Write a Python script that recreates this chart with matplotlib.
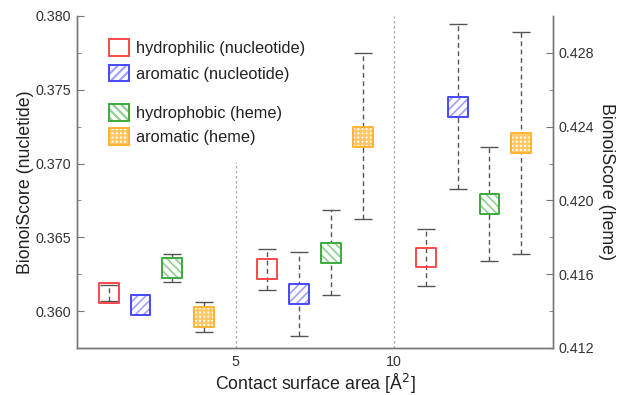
import numpy as np
import matplotlib
matplotlib.use("Agg")
import matplotlib.pyplot as plt
from matplotlib.patches import Patch
from matplotlib.legend_handler import HandlerTuple

plt.rcParams['font.family'] = ['Liberation Sans', 'DejaVu Sans']

# x positions (contact surface area)
x_hphil_nuc = [1, 6, 11]
x_arom_nuc = [2, 7, 12]
x_hphob_heme = [3, 8, 13]
x_arom_heme = [4, 9, 14]

# nucleotide (left axis): value, lower end, upper end
hphil_nuc = [0.36125, 0.36283, 0.36363]
hphil_nuc_lo = [0.3607, 0.36142, 0.36172]
hphil_nuc_hi = [0.3618, 0.36420, 0.36556]

arom_nuc = [0.3604, 0.36115, 0.37385]
arom_nuc_lo = [0.3602, 0.35833, 0.36827]
arom_nuc_hi = [0.3606, 0.36398, 0.37946]

# heme (right axis)
hphob_heme = [0.41634, 0.41716, 0.41980]
hphob_heme_lo = [0.41560, 0.41487, 0.41674]
hphob_heme_hi = [0.41709, 0.41949, 0.42290]

arom_heme = [0.41366, 0.42346, 0.42312]
arom_heme_lo = [0.41289, 0.41899, 0.41709]
arom_heme_hi = [0.41452, 0.42798, 0.42915]

labels = ['hydrophilic (nucleotide)', 'aromatic (nucleotide)',
          'hydrophobic (heme)', 'aromatic (heme)']
edge_cols = ['#ff4848', '#4848ff', '#3daa3d', '#ffb333']
hatch_cols = ['none', '#a0a0ff', '#8fd08f', '#ffc766']
hatches = [None, '////', '\\\\\\\\', '++++']

fig = plt.figure(figsize=(6.17, 3.95), dpi=100)
ax = fig.add_axes([0.1248, 0.119, 0.7714, 0.8405])
ax2 = ax.twinx()

ax.set_xlim(0, 15)
ax.set_ylim(0.3575, 0.380)
ax2.set_ylim(0.412, 0.430)

for a in (ax, ax2):
    a.spines['top'].set_visible(False)
    for s in a.spines.values():
        s.set_color('#777777')
        s.set_linewidth(1.0)

# first divider stops below the legend
ax.axvline(5, ymax=0.56, color='#aaaaaa', ls=(0, (2, 2)), lw=0.9, zorder=0)
ax.axvline(10, color='#aaaaaa', ls=(0, (2, 2)), lw=0.9, zorder=0)

err_kw = dict(fmt='none', ecolor='#555555', elinewidth=1.0, capsize=6.8,
              capthick=1.0)
msize = 205


def draw(axis, x, y, lo, hi, i):
    y = np.array(y)
    yerr = [y - np.array(lo), np.array(hi) - y]
    eb = axis.errorbar(x, y, yerr=yerr, zorder=2, **err_kw)
    eb[2][0].set_linestyle((0, (3.5, 2.5)))
    if hatches[i] is not None:
        plt.rcParams['hatch.linewidth'] = 1.6 if i == 3 else 1.2
        axis.scatter(x, y, s=msize, marker='s', facecolor='white',
                     edgecolor=hatch_cols[i], hatch=hatches[i],
                     linewidths=0, zorder=3)
    axis.scatter(x, y, s=msize, marker='s', facecolor='none',
                 edgecolor=edge_cols[i], linewidths=1.4, zorder=4)


draw(ax, x_hphil_nuc, hphil_nuc, hphil_nuc_lo, hphil_nuc_hi, 0)
draw(ax, x_arom_nuc, arom_nuc, arom_nuc_lo, arom_nuc_hi, 1)
draw(ax2, x_hphob_heme, hphob_heme, hphob_heme_lo, hphob_heme_hi, 2)
draw(ax2, x_arom_heme, arom_heme, arom_heme_lo, arom_heme_hi, 3)

ax.set_xticks([5, 10])
ax.set_yticks([0.360, 0.365, 0.370, 0.375, 0.380])
ax.set_yticks(np.arange(0.3625, 0.380, 0.005), minor=True)
ax2.set_yticks([0.412, 0.416, 0.420, 0.424, 0.428])
ax2.set_yticks([0.414, 0.418, 0.422, 0.426], minor=True)
ax.yaxis.set_major_formatter(plt.FormatStrFormatter('%.3f'))
ax2.yaxis.set_major_formatter(plt.FormatStrFormatter('%.3f'))

ax.tick_params(axis='y', direction='in', length=5, color='#777777',
               labelsize=10.3, labelcolor='#333333', pad=4)
ax.tick_params(axis='y', which='minor', direction='in', length=3,
               color='#777777')
ax2.tick_params(axis='y', direction='in', length=5, color='#777777',
                labelsize=10.3, labelcolor='#333333', pad=4)
ax2.tick_params(axis='y', which='minor', direction='in', length=3,
                color='#777777')
ax.tick_params(axis='x', length=0, labelsize=10.3, labelcolor='#333333',
               pad=5)

ax.set_xlabel('Contact surface area [Å$^2$]', fontsize=12.8,
              color='#222222', labelpad=2)
ax.set_ylabel('BionoiScore (nucletide)', fontsize=12.8, color='#222222',
              labelpad=1)
ax2.set_ylabel('BionoiScore (heme)', fontsize=12.8, color='#222222',
               rotation=270, labelpad=15)


def handle(i):
    outline = Patch(facecolor='none', edgecolor=edge_cols[i], linewidth=1.4)
    if hatches[i] is None:
        return (outline,)
    fill = Patch(facecolor='white', edgecolor=hatch_cols[i],
                 hatch=hatches[i], linewidth=0)
    return (fill, outline)


leg_kw = dict(frameon=False, fontsize=11.8,
              handlelength=1.2, handleheight=1.2, handletextpad=0.45,
              borderpad=0.3,
              handler_map={tuple: HandlerTuple(ndivide=1)})
leg1 = ax2.legend([handle(0), handle(1)], labels[:2], loc='upper left',
                  bbox_to_anchor=(0.04, 0.971), labelspacing=0.55, **leg_kw)
ax2.add_artist(leg1)
leg2 = ax2.legend([handle(2), handle(3)], labels[2:], loc='upper left',
                  bbox_to_anchor=(0.04, 0.775), labelspacing=0.45, **leg_kw)
for lg in (leg1, leg2):
    for t in lg.get_texts():
        t.set_color('#222222')

fig.savefig('out.png', dpi=100)
